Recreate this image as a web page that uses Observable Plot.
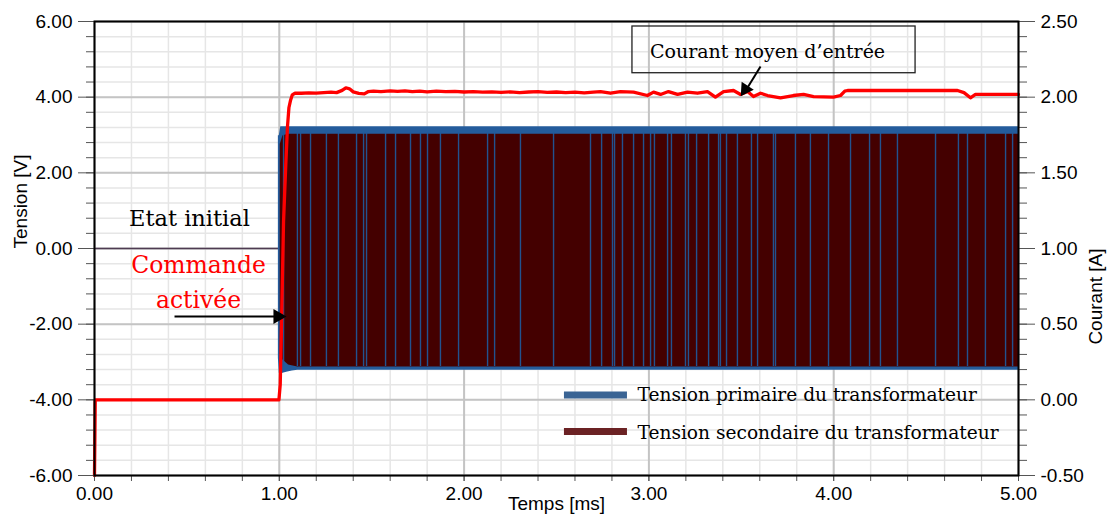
<!DOCTYPE html>
<html><head><meta charset="utf-8">
<script src="https://cdn.jsdelivr.net/npm/d3@7"></script>
<script src="https://cdn.jsdelivr.net/npm/@observablehq/plot@0.6"></script>
<style>body{margin:0;background:#fff} #chart svg{display:block}</style>
</head><body><div id="chart"></div>
<script>
// ---- data ----
const currentTime = [0,0.004,0.998,1.005,1.012,1.023,1.035,1.044,1.052,1.061,1.07,1.085,1.12,1.16,1.2,1.24,1.28,1.31,1.34,1.36,1.38,1.40,1.43,1.46,1.48,1.51,1.55,1.60,1.64,1.68,1.72,1.76,1.80,1.85,1.90,1.95,2.00,2.05,2.10,2.15,2.20,2.25,2.30,2.35,2.40,2.45,2.50,2.55,2.60,2.65,2.70,2.738,2.792,2.846,2.917,2.992,3.025,3.063,3.106,3.155,3.209,3.263,3.317,3.360,3.404,3.458,3.496,3.534,3.566,3.604,3.642,3.712,3.782,3.837,3.891,3.999,4.037,4.06,4.075,4.67,4.705,4.74,4.767,5.0];
const currentAmps = [-0.5,0,0,0.1,0.5,1.18,1.55,1.8,1.93,1.98,2.015,2.026,2.026,2.028,2.027,2.03,2.033,2.03,2.045,2.062,2.055,2.035,2.025,2.022,2.036,2.04,2.037,2.041,2.038,2.042,2.036,2.04,2.035,2.04,2.036,2.038,2.034,2.037,2.033,2.035,2.031,2.035,2.03,2.034,2.036,2.031,2.034,2.03,2.033,2.029,2.034,2.037,2.026,2.037,2.033,2.011,2.033,2.018,2.037,2.018,2.033,2.026,2.037,2.0,2.037,2.044,2.018,2.037,2.004,2.026,2.011,1.996,2.011,2.018,2.004,2.0,2.011,2.04,2.044,2.044,2.03,1.996,2.018,2.018];

const initialTime = [0, 1.0];
const initialVolt = [0, 0];

const primaryTime = [0.995, 1.0, 1.008, 1.02, 1.04, 1.07, 1.10, 5.0];
const primaryHigh = [2.98, 2.98, 3.22, 3.22, 3.22, 3.22, 3.22, 3.22];
const primaryLow  = [-2.9, -3.3, -3.33, -3.3, -3.27, -3.24, -3.22, -3.22];

const secondaryTime = [1.005, 1.02, 1.05, 1.10, 5.0];
const secondaryHigh = [2.75, 2.98, 3.02, 3.02, 3.02];
const secondaryLow  = [-2.8, -2.95, -3.08, -3.13, -3.13];

const stripeTime = [1.023,1.098,1.115,1.169,1.255,1.320,1.418,1.456,1.472,1.575,1.629,1.710,1.764,1.802,1.872,1.970,2.127,2.165,2.305,2.484,2.684,2.744,2.803,2.814,2.857,2.917,2.971,3.009,3.030,3.101,3.122,3.198,3.214,3.258,3.323,3.377,3.387,3.420,3.479,3.555,3.588,3.674,3.685,3.793,3.874,3.972,4.091,4.194,4.253,4.345,4.551,4.675,4.724,4.821,4.930,4.968];

const voltTicks = [-6,-4,-2,0,2,4,6];
const ampTicks = [-0.5,0,0.5,1.0,1.5,2.0,2.5];
const timeTicks = [0,1,2,3,4,5];
const legendLabels = ["Tension primaire du transformateur", "Tension secondaire du transformateur"];

// ---- tables ----
const ampToVolt = a => 4 * (a - 1);
const current = currentTime.map((t, i) => ({t, a: currentAmps[i]}));
const initial = initialTime.map((t, i) => ({t, v: initialVolt[i]}));
const primary = primaryTime.map((t, i) => ({t, hi: primaryHigh[i], lo: primaryLow[i]}));
const secondary = secondaryTime.map((t, i) => ({t, hi: secondaryHigh[i], lo: secondaryLow[i]}));
const voltMinor = d3.range(-15, 16).map(i => i * 0.4);
const timeMinor = d3.range(0, 26).map(i => i * 0.2);
const serif = "'DejaVu Serif', serif";

const chart = Plot.plot({
  width: 1110, height: 518,
  marginLeft: 94, marginRight: 92, marginTop: 21, marginBottom: 43,
  x: {domain: [0, 5]},
  y: {domain: [-6, 6]},
  style: {fontFamily: "'Liberation Sans', Arial, sans-serif", fontSize: "19px", color: "#000", background: "#fff"},
  marks: [
    Plot.gridX(timeMinor, {stroke: "#e6e6e6", strokeOpacity: 1, strokeWidth: 1.5}),
    Plot.gridY(voltMinor, {stroke: "#e6e6e6", strokeOpacity: 1, strokeWidth: 1.5}),
    Plot.gridX(timeTicks, {stroke: "#c4c4c4", strokeOpacity: 1, strokeWidth: 2}),
    Plot.gridY(voltTicks, {stroke: "#c4c4c4", strokeOpacity: 1, strokeWidth: 2}),

    Plot.line(initial, {x: "t", y: "v", stroke: "#4e3b52", strokeWidth: 1.3}),
    Plot.areaY(primary, {x: "t", y1: "lo", y2: "hi", fill: "#245c9c"}),
    Plot.areaY(secondary, {x: "t", y1: "lo", y2: "hi", fill: "#440000"}),
    Plot.ruleX(stripeTime, {x: d => d, y1: -3.12, y2: 3.06, stroke: "#1f5b9e", strokeWidth: 1.4, strokeOpacity: 0.9}),
    Plot.line(current, {x: "t", y: d => ampToVolt(d.a), stroke: "#ff0000", strokeWidth: 3.3}),

    Plot.axisY(voltTicks, {anchor: "left", tickSize: 16, tickPadding: 6, stroke: "#555", tickFormat: d => d.toFixed(2), label: null}),
    Plot.axisY(voltMinor, {anchor: "left", tickSize: 8, stroke: "#555", tickFormat: () => "", label: null}),
    Plot.axisY(ampTicks.map(ampToVolt), {anchor: "right", tickSize: 16, tickPadding: 6, stroke: "#555", tickFormat: d => (1 + d / 4).toFixed(2), label: null}),
    Plot.axisY(voltMinor, {anchor: "right", tickSize: 8, stroke: "#555", tickFormat: () => "", label: null}),
    Plot.axisX(timeTicks, {anchor: "bottom", tickSize: 6, tickPadding: 5, stroke: "#555", tickFormat: d => d.toFixed(2), label: null}),
    Plot.axisX(timeMinor, {anchor: "bottom", tickSize: 6, stroke: "#555", tickFormat: () => "", label: null}),
    Plot.frame({stroke: "#000", strokeWidth: 2}),

    Plot.text(["Tension [V]"], {frameAnchor: "left", dx: -74, rotate: -90, fontSize: 19}),
    Plot.text(["Courant [A]"], {frameAnchor: "right", dx: 77, rotate: -90, fontSize: 19}),
    Plot.text(["Temps [ms]"], {frameAnchor: "bottom", dy: 34, fontSize: 19}),

    Plot.text(["Etat initial"], {x: 0.514, y: 0.79, fontFamily: serif, fontSize: 22.5, fill: "#000"}),
    Plot.text(["Commande"], {x: 0.563, y: -0.46, fontFamily: serif, fontSize: 23.5, fill: "#ff0000"}),
    Plot.text(["activée"], {x: 0.563, y: -1.375, fontFamily: serif, fontSize: 23.5, fill: "#ff0000"}),
    Plot.link([0], {x1: 0.433, x2: 1.0, y1: -1.798, y2: -1.798, stroke: "#000", strokeWidth: 2}),
    Plot.dot([0], {x: 1.039, y: -1.798, symbol: "triangle", r: 5.6, rotate: 90, dx: -8.7, fill: "#000", stroke: "none"}),

    Plot.rect([0], {x1: 2.911, x2: 4.443, y1: 4.633, y2: 5.868, fill: "none", stroke: "#222", strokeWidth: 1.3}),
    Plot.text(["Courant moyen d\u2019entrée"], {x: 3.642, y: 5.207, fontFamily: serif, fontSize: 19, fill: "#000"}),
    Plot.link([0], {x1: 3.604, y1: 4.81, x2: 3.53, y2: 4.22, stroke: "#000", strokeWidth: 2}),
    Plot.dot([0], {x: 3.496, y: 4.017, symbol: "triangle", r: 5.4, rotate: 213.7, dx: 4.8, dy: -7.2, fill: "#000", stroke: "none"}),

    Plot.ruleY([0], {x1: 2.543, x2: 2.884, y: -3.87, stroke: "#3a6494", strokeWidth: 7}),
    Plot.ruleY([0], {x1: 2.543, x2: 2.884, y: -4.84, stroke: "#6b2224", strokeWidth: 7}),
    Plot.text([legendLabels[0]], {x: 2.938, y: -3.873, textAnchor: "start", fontFamily: serif, fontSize: 18.6, fill: "#000"}),
    Plot.text([legendLabels[1]], {x: 2.938, y: -4.89, textAnchor: "start", fontFamily: serif, fontSize: 18.6, fill: "#000"})
  ]
});
document.getElementById("chart").append(chart);
</script></body></html>
